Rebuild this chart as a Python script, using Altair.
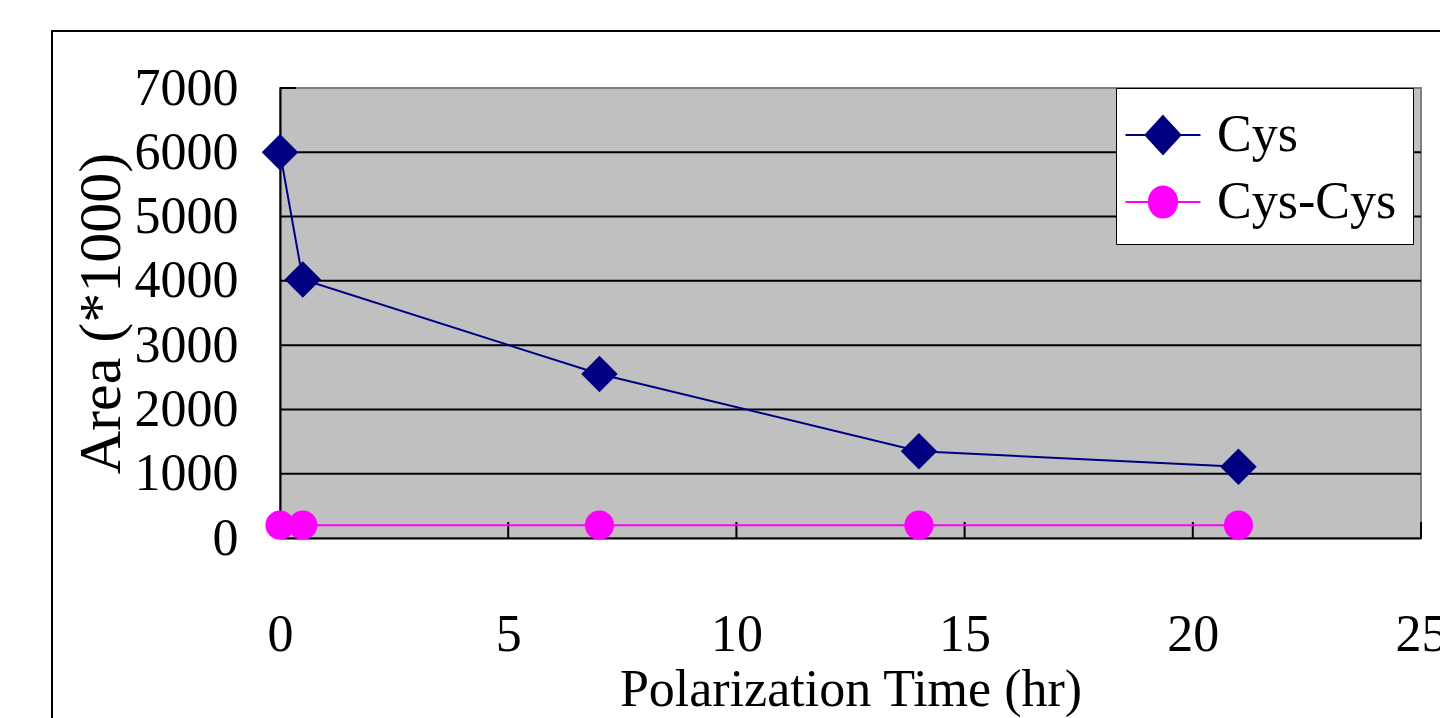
import altair as alt
import pandas as pd

# Data
times = [0, 0.5, 7, 14, 21]
cys = [6000, 4020, 2550, 1350, 1110]
cys_cys = [200, 200, 200, 200, 200]
series_names = ["Cys", "Cys-Cys"]
series_colors = ["#000080", "#FF00FF"]
x_ticks = [0, 5, 10, 15, 20, 25]
y_ticks = [0, 1000, 2000, 3000, 4000, 5000, 6000, 7000]

rows = []
for t, v in zip(times, cys):
    rows.append({"t": t, "area": v, "series": "Cys"})
for t, v in zip(times, cys_cys):
    rows.append({"t": t, "area": v, "series": "Cys-Cys"})
df = pd.DataFrame(rows)

W, H = 1141, 450
FONT = "Liberation Serif"

xscale = alt.Scale(domain=[0, 25], nice=False, zero=False)
yscale = alt.Scale(domain=[0, 7000], nice=False)
# data-driven domain (sorted: Cys, Cys-Cys)
cscale = alt.Scale(range=series_colors)

x_axis = alt.Axis(
    values=x_ticks, title="Polarization Time (hr)", labelPadding=71,
    titlePadding=4, ticks=False, grid=False, domainColor="black",
    domainWidth=2, labelFlush=False, format="d")
y_axis = alt.Axis(
    values=y_ticks, title="Area (*1000)", labelPadding=42, titlePadding=2,
    ticks=False, grid=False, domainColor="black", domainWidth=2, format="d",
    titleFontSize=60)


def X(field="t"):
    return alt.X(f"{field}:Q", scale=xscale, axis=x_axis, title="Polarization Time (hr)")


def Y(field="area"):
    return alt.Y(f"{field}:Q", scale=yscale, axis=y_axis, title="Area (*1000)")


base = alt.Chart(df)

lines = base.mark_line(strokeWidth=2).encode(
    x=X(), y=Y(),
    color=alt.Color("series:N", scale=cscale, legend=None),
    detail="series:N",
)

grid = alt.Chart(pd.DataFrame({"area": y_ticks[1:-1]})).mark_rule(
    color="black", strokeWidth=2
).encode(y=Y())

ytk = alt.Chart(pd.DataFrame({"area": [7000]})).mark_rule(
    color="black", strokeWidth=2
).encode(y=Y(), x=alt.value(0), x2=alt.value(16))

xtk = alt.Chart(pd.DataFrame({"t": x_ticks[1:]})).mark_rule(
    color="black", strokeWidth=2
).encode(x=X(), y=alt.value(H - 16), y2=alt.value(H))

pts_cys = base.transform_filter(alt.datum.series == "Cys").mark_point(
    shape="diamond", filled=True, size=1330, opacity=1
).encode(x=X(), y=Y(), color=alt.Color("series:N", scale=cscale, legend=None))

pts_cc = base.transform_filter(alt.datum.series == "Cys-Cys").mark_point(
    shape="circle", filled=True, size=850, opacity=1
).encode(x=X(), y=Y(), color=alt.Color("series:N", scale=cscale, legend=None))

diamond_path = "M-1.25,0L1.25,0M0,-0.63L0.58,0L0,0.63L-0.58,0Z"
circle_path = "M-1.25,0L1.25,0M0.47,0A0.47,0.52 0 1 1 -0.47,0A0.47,0.52 0 1 1 0.47,0Z"

leg = alt.Legend(
    title=None, orient="none", legendX=836, legendY=0,
    symbolSize=3600, symbolStrokeWidth=2, symbolOpacity=1,
    labelFont=FONT, labelFontSize=52, labelColor="black", labelOffset=23,
    padding=16, rowPadding=10, fillColor="white", strokeColor="black",
    labelLimit=400, zindex=5,
)
legend_layer = base.mark_point(opacity=0, strokeWidth=2, size=10).encode(
    x=X(), y=Y(),
    shape=alt.Shape("series:N", scale=alt.Scale(domain=series_names, range=[diamond_path, circle_path]), legend=leg),
    fill=alt.Fill("series:N", scale=alt.Scale(domain=series_names, range=series_colors), legend=leg),
    stroke=alt.Stroke("series:N", scale=alt.Scale(domain=series_names, range=series_colors), legend=leg),
)

# outer frame (decoration)
frame = alt.Chart(pd.DataFrame({"a": [0]})).mark_rect(
    filled=False, stroke="black", strokeWidth=2
).encode(x=alt.value(-228), x2=alt.value(1400), y=alt.value(-57), y2=alt.value(900))

chart = alt.layer(grid, ytk, xtk, lines, pts_cys, pts_cc, legend_layer, frame).properties(
    width=W, height=H,
    padding={"left": 280, "top": 88, "right": 19, "bottom": 180},
    autosize=alt.AutoSizeParams(type="none"),
    background="white",
).configure_view(
    fill="#C0C0C0", stroke="#808080", strokeWidth=2
).configure_axis(
    labelFont=FONT, labelFontSize=52, labelColor="black",
    titleFont=FONT, titleFontSize=52, titleFontWeight="normal", titleColor="black",
)

chart.save("out.html", embed_options={"renderer": "svg", "actions": False})
